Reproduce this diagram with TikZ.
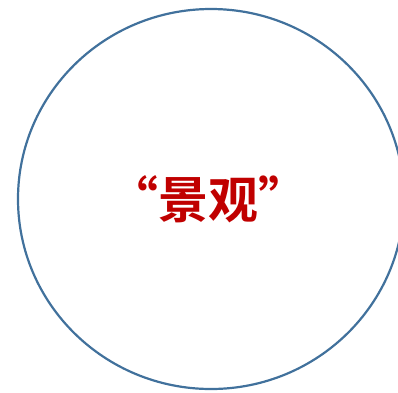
\documentclass[tikz,border=0pt]{standalone}
\usepackage{fontspec}
\newfontfamily\cjk{Noto Sans CJK SC Bold}
\definecolor{ringblue}{HTML}{41719C}
\definecolor{titlered}{HTML}{C00000}
\tikzset{
  ring/.style={draw=ringblue, line width=2.2pt},
  title/.style={text=titlered, font=\cjk\fontsize{50}{50}\selectfont, inner sep=0pt}
}
\begin{document}
\begin{tikzpicture}[x=1pt,y=-1pt]
\useasboundingbox (0,0) rectangle (398,392);
\begin{scope}
\clip (0,0) rectangle (398,392);
\draw[ring] (211,199) ellipse [x radius=193, y radius=190];
\end{scope}
\node[title] (t) at (208,199) {“景观”};
\end{tikzpicture}
\end{document}
